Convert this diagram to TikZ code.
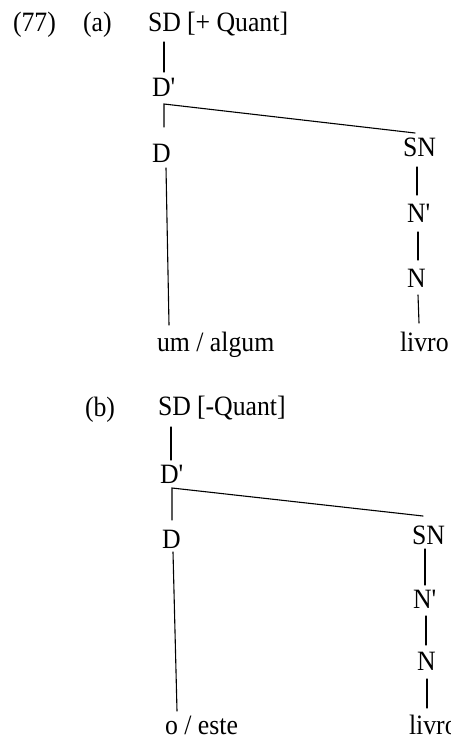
\documentclass[tikz,border=0pt]{standalone}
\usepackage{fontspec}
\setmainfont{Liberation Serif}[FakeStretch=0.92]
\usetikzlibrary{calc}
\tikzset{
  lab/.style={anchor=base west, inner sep=0pt, outer sep=0pt, font=\fontsize{28}{32}\selectfont},
  branch/.style={line width=1.1pt, line cap=round}
}
\newcommand{\pr}{\textquotesingle}
\begin{document}
\begin{tikzpicture}[x=1pt, y=-1pt]
\useasboundingbox (0,0) rectangle (450,741);
% ---------- (a) ----------
\node[lab] (n77) at (13,32) {(77)};
\node[lab] (na) at (83,32) {(a)};
\node[lab] (SDa) at (148,32) {SD};
\node[lab] (Fa) at (187,32) {[+ Quant]};
\node[lab] (Dpa) at (152,97) {D\pr};
\node[lab] (Da) at (152,162) {D};
\node[lab] (uma) at (157,351) {um / algum};
\node[lab] (SNa) at (403,157) {SN};
\node[lab] (Npa) at (407,222) {N\pr};
\node[lab] (Na) at (407,287) {N};
\node[lab] (livroa) at (400,351) {livro};
\draw[branch] ($(SDa.base west)+(16,10)$) -- ($(Dpa.base west)+(12,-25)$);
\draw[branch] ($(Da.base west)+(12,-35)$) -- ($(Dpa.base west)+(12,7)$) -- ($(SNa.base west)+(12,-24)$);
\draw[branch] ($(Da.base west)+(14,6)$) -- ($(uma.base west)+(12,-26)$);
\draw[branch] ($(SNa.base west)+(14,10)$) -- ($(Npa.base west)+(10,-27)$);
\draw[branch] ($(Npa.base west)+(11,10)$) -- ($(Na.base west)+(11,-27)$);
\draw[branch] ($(Na.base west)+(11,8)$) -- ($(livroa.base west)+(19,-28)$);
% ---------- (b) ----------
\node[lab] (nb) at (85,416) {(b)};
\node[lab] (SDb) at (158,415) {SD};
\node[lab] (Fb) at (197,415) {[-Quant]};
\node[lab] (Dpb) at (160,483) {D\pr};
\node[lab] (Db) at (162,548) {D};
\node[lab] (ob) at (165,734) {o / este};
\node[lab] (SNb) at (412,544) {SN};
\node[lab] (Npb) at (413,608) {N\pr};
\node[lab] (Nb) at (417,670) {N};
\node[lab] (livrob) at (409,734) {livro};
\draw[branch] ($(SDb.base west)+(13,12)$) -- ($(Dpb.base west)+(11,-23)$);
\draw[branch] ($(Db.base west)+(10,-28)$) -- ($(Dpb.base west)+(12,5)$) -- ($(SNb.base west)+(11,-28)$);
\draw[branch] ($(Db.base west)+(11,4)$) -- ($(ob.base west)+(12,-23)$);
\draw[branch] ($(SNb.base west)+(13,5)$) -- ($(Npb.base west)+(12,-23)$);
\draw[branch] ($(Npb.base west)+(13,8)$) -- ($(Nb.base west)+(9,-25)$);
\draw[branch] ($(Nb.base west)+(10,9)$) -- ($(livrob.base west)+(18,-26)$);
\end{tikzpicture}
\end{document}
